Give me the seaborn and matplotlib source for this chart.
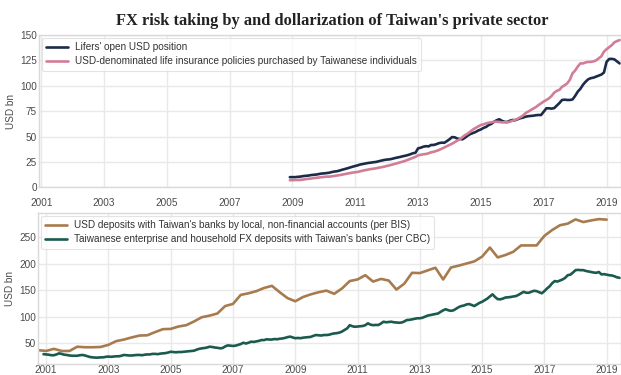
import numpy as np
import pandas as pd
import matplotlib
matplotlib.use("Agg")
import matplotlib.pyplot as plt
import seaborn as sns

# ---- Life insurers (monthly, Dec 2008 - Jun 2019), USD bn ----
lifers_start = "2008-12-01"
lifers_open_usd = [
    10,
    10, 10, 10.3, 10.5, 11, 11.3, 11.5, 12, 12.3, 12.5, 13, 13.5,
    13.7, 14, 14.3, 15, 15.5, 15.8, 16.5, 17.3, 18, 18.7, 19.5, 20.3,
    21, 21.7, 22.5, 23, 23.5, 24, 24.3, 24.7, 25, 25.7, 26.3, 26.9,
    27.3, 27.5, 28, 28.7, 29.3, 29.8, 30.5, 31, 31.7, 32.5, 33.5, 34,
    38.4, 39, 40, 40.5, 40.3, 41.7, 41.7, 42.5, 43.5, 44, 43.8, 45.5,
    47.3, 49.5, 49.2, 48, 47.5, 47.3, 49, 51, 52.5, 53.5, 54.5, 56,
    57, 58.5, 59.5, 61.4, 62.5, 64.5, 66, 67, 65.5, 64.5, 64.3, 65.5,
    66.3, 66, 67, 68, 68.6, 69.5, 70, 70.3, 70.5, 71, 71.2, 71.2,
    74.5, 77.8, 77.8, 77.5, 78, 80.5, 83, 86, 86.3, 86, 86, 86.5,
    90, 94.2, 97, 101, 104, 106.4, 107.5, 108, 109, 110, 111, 113,
    123.5, 126.4, 126.5, 126, 124, 122,
]
usd_policies = [
    7,
    7, 7.2, 7.2, 7.3, 7.6, 8, 8.3, 8.6, 9, 9.3, 9.6, 10,
    10.2, 10.5, 10.5, 10.8, 11.2, 11.6, 12, 12.5, 13, 13.5, 14, 14.5,
    14.8, 15.2, 15.8, 16.5, 17, 17.5, 18, 18.3, 18.8, 19.3, 19.8, 20.3,
    21, 21.6, 22.3, 23, 23.7, 24.5, 25.2, 26, 27, 28, 29, 30,
    31.5, 32, 32.5, 32.8, 33.5, 34.5, 35, 35.8, 36.8, 38, 39.2, 40.5,
    41.7, 43, 44.5, 46, 47.5, 49.5, 51.5, 53, 55, 57, 58.5, 60,
    61.4, 62, 63, 63.6, 64, 64.6, 64.6, 64.3, 64, 64, 64, 64.5,
    65.5, 66.3, 67.5, 69, 70.5, 72.9, 74.5, 76, 77.5, 79, 81, 82.7,
    84.5, 86, 87.6, 90, 93.2, 95, 96, 99, 100.5, 102.4, 106, 112.3,
    115, 119, 122, 122, 123, 123.5, 123.5, 124, 125, 127, 129, 133.6,
    136, 138, 140, 142.8, 144, 145,
]

# ---- Deposits: BIS quarterly (Q4 2000 - Q1 2019), USD bn ----
bis_start = "2000-10-01"
bis_usd_deposits = [
    37,
    35.5, 39.5, 35.5, 35.5,
    43.5, 42.5, 42.5, 43,
    47, 54, 57, 61,
    64.5, 65, 71, 76.5,
    77, 81.5, 84, 91,
    99, 102, 106, 120,
    124, 141, 144, 148,
    154, 158, 146, 135,
    129, 137, 142, 146,
    149, 143, 153, 167,
    170, 178, 166, 171,
    168, 151, 162, 182.5,
    182, 187, 192, 170,
    192.5, 196, 200, 204,
    213, 230, 211.5, 216,
    222, 234, 234, 234,
    252, 263, 272, 275,
    283, 278, 281, 283.5,
    282.5,
]

# ---- Deposits: CBC monthly (Dec 2000 - Jun 2019), USD bn ----
cbc_start = "2000-12-01"
cbc_fx_deposits = [
    29.5,
    29, 28.5, 27.5, 27.5, 29, 31, 30, 28.5, 28, 27, 26.5, 26.5,
    26.5, 27.5, 28, 27, 25.5, 24, 23.5, 23, 23, 23.5, 23.5, 24.5,
    25, 24.5, 25, 25.5, 25.5, 26.5, 28, 27.5, 27, 27, 27.5, 28,
    28, 27.5, 28.5, 29, 29, 30, 30, 29.5, 30.5, 31, 31.5, 32.5,
    34, 33.5, 33, 33.5, 33.5, 34, 34.5, 35, 35.5, 36, 38, 39.5,
    40.5, 41, 42, 43.5, 43, 42, 41.5, 40.5, 41, 44, 46, 45.5,
    45, 45.5, 47, 48.5, 51, 49.5, 51, 53, 52.5, 53.5, 54.5, 56,
    56, 57.5, 57, 57, 58, 57.5, 58.5, 59, 60, 61.5, 62.5, 61,
    59.5, 60, 59.5, 60.5, 61, 61.5, 62, 64, 65.5, 65, 64.5, 65.5,
    65.5, 66, 67.5, 68.5, 69, 70, 72, 75, 78, 84, 82, 81,
    81.5, 82, 82.5, 84, 87.5, 85, 84, 84.5, 84.3, 87, 90.5, 89.5,
    90, 90.5, 89.5, 89, 88.6, 89, 91, 93.7, 94, 95, 96, 97,
    97, 98, 100, 102, 103, 104, 105, 106, 109, 112, 114, 112,
    111, 112, 115, 118, 120, 121, 123, 123.7, 122, 120, 123, 126,
    128, 131, 134, 138, 142, 137, 133, 132.6, 134, 136, 136.5, 137,
    138, 138.7, 141, 144, 146.8, 145, 145, 147, 148.7, 148, 146, 144,
    148, 153, 157, 163, 167, 166, 168, 170, 173, 178, 179, 183,
    187.5, 188, 187.5, 187.5, 186, 185, 184, 183, 182.5, 184, 179.5, 180,
    179, 178, 177.5, 176, 174, 173,
]

labels_top = [
    "Lifers' open USD position",
    "USD-denominated life insurance policies purchased by Taiwanese individuals",
]
labels_bottom = [
    "USD deposits with Taiwan's banks by local, non-financial accounts (per BIS)",
    "Taiwanese enterprise and household FX deposits with Taiwan's banks (per CBC)",
]
year_ticks = list(range(2001, 2020, 2))
title = "FX risk taking by and dollarization of Taiwan's private sector"


def frac_year(start, n, freq):
    d = pd.date_range(start, periods=n, freq=freq)
    return d.year + (d.month - 1) / 12.0


def long_frame(x, series):
    parts = []
    for name, vals in series.items():
        parts.append(pd.DataFrame({"year": x, "value": vals, "series": name}))
    return pd.concat(parts, ignore_index=True)


sns.set_theme(style="whitegrid")
plt.rcParams["font.family"] = ["Liberation Sans", "DejaVu Sans"]
plt.rcParams["axes.edgecolor"] = "#d9d9d9"
plt.rcParams["grid.color"] = "#e9e9e9"
plt.rcParams["axes.linewidth"] = 1.0

fig = plt.figure(figsize=(6.21, 3.75), dpi=100)
ax1 = fig.add_axes([39 / 621, 1 - 187.3 / 375, 1 - 39 / 621, (187.3 - 35) / 375])
ax2 = fig.add_axes([38 / 621, 1 - 364 / 375, 1 - 38 / 621, (364 - 213) / 375])

navy, pink = "#1c2b4a", "#d27d96"
brown, teal = "#a87b4e", "#1b5a4f"

x_top = frac_year(lifers_start, len(lifers_open_usd), "MS")
top_df = long_frame(x_top, {labels_top[0]: lifers_open_usd,
                            labels_top[1]: usd_policies})
sns.lineplot(data=top_df, x="year", y="value", hue="series",
             palette=[navy, pink], linewidth=1.9, ax=ax1)

x_bis = frac_year(bis_start, len(bis_usd_deposits), "QS")
x_cbc = frac_year(cbc_start, len(cbc_fx_deposits), "MS")
sns.lineplot(x=x_bis, y=bis_usd_deposits, color=brown, linewidth=1.9,
             ax=ax2, label=labels_bottom[0])
sns.lineplot(x=x_cbc, y=cbc_fx_deposits, color=teal, linewidth=1.9,
             ax=ax2, label=labels_bottom[1])

tick_color = "#4a4a4a"
for ax in (ax1, ax2):
    ax.set_xticks(year_ticks)
    ax.set_xticklabels([str(y) for y in year_ticks])
    ax.tick_params(axis="both", labelsize=7.2, colors=tick_color, pad=1.5)
    ax.tick_params(axis="y", length=0, pad=1.5)
    ax.set_xlabel("")
    ax.set_ylabel("USD bn", fontsize=7.2, color=tick_color)
    ax.yaxis.set_label_coords(-0.039, 0.5)
    leg = ax.legend(loc="upper left", fontsize=7.2, frameon=True,
                    handlelength=2.2, handletextpad=0.7, borderaxespad=0.3,
                    labelspacing=0.45, borderpad=0.4)
    leg.get_frame().set_edgecolor("#dddddd")
    leg.get_frame().set_linewidth(0.8)
    for t in leg.get_texts():
        t.set_color("#333333")

ax2.tick_params(axis="x", length=0, pad=1.0)

ax1.set_xlim(2000.93, 2019.46)
ax1.set_ylim(0, 150)
ax1.set_yticks([0, 25, 50, 75, 100, 125, 150])
ax2.set_xlim(2000.74, 2019.46)
ax2.set_ylim(11, 295)
ax2.set_yticks([50, 100, 150, 200, 250])

fig.text(332 / 621, 1 - 25 / 375, title, ha="center", va="baseline",
         fontsize=11.8, fontweight="bold", family="Liberation Serif",
         color="#222222")

fig.savefig("out.png", dpi=100)
